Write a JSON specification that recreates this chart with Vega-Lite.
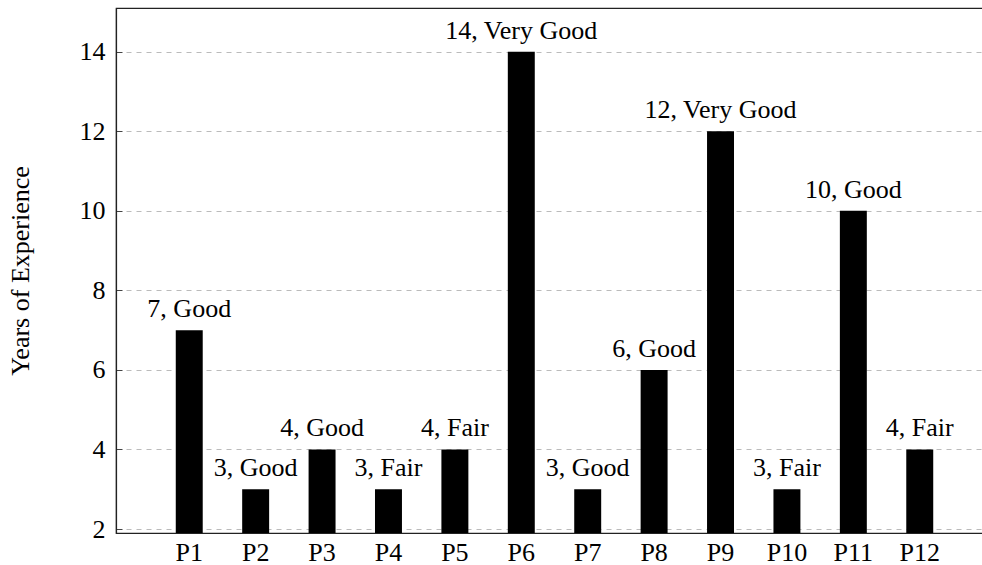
{
  "$schema": "https://vega.github.io/schema/vega-lite/v6.json",
  "autosize": "none",
  "padding": {"left": 116, "top": 8, "right": 0, "bottom": 32},
  "width": 877,
  "height": 525,
  "background": "white",
  "config": {
    "font": "Liberation Serif",
    "view": {"stroke": "#222", "strokeWidth": 1.2}
  },
  "data": {
    "values": [
      {"p": "P1", "years": 7, "label": "7, Good"},
      {"p": "P2", "years": 3, "label": "3, Good"},
      {"p": "P3", "years": 4, "label": "4, Good"},
      {"p": "P4", "years": 3, "label": "3, Fair"},
      {"p": "P5", "years": 4, "label": "4, Fair"},
      {"p": "P6", "years": 14, "label": "14, Very Good"},
      {"p": "P7", "years": 3, "label": "3, Good"},
      {"p": "P8", "years": 6, "label": "6, Good"},
      {"p": "P9", "years": 12, "label": "12, Very Good"},
      {"p": "P10", "years": 3, "label": "3, Fair"},
      {"p": "P11", "years": 10, "label": "10, Good"},
      {"p": "P12", "years": 4, "label": "4, Fair"}
    ]
  },
  "encoding": {
    "x": {
      "field": "p", "type": "nominal", "sort": null,
      "scale": {"paddingInner": 0.594, "paddingOuter": 0.9},
      "axis": {
        "title": null, "labelAngle": 0, "labelFontSize": 26, "labelColor": "black",
        "labelFont": "Liberation Serif", "ticks": false, "labelPadding": 6,
        "domainColor": "#222", "domainWidth": 1.2, "grid": false
      }
    },
    "y": {
      "field": "years", "type": "quantitative",
      "scale": {"domain": [1.9, 15.1], "nice": false, "zero": false},
      "axis": {
        "title": "Years of Experience", "titleFontSize": 26, "titleFont": "Liberation Serif",
        "titleFontWeight": "normal", "titleColor": "black",
        "titleAngle": -90, "titleBaseline": "alphabetic", "titleAlign": "center",
        "titleX": -88, "titleY": 262.5,
        "values": [2, 4, 6, 8, 10, 12, 14],
        "labelFontSize": 26, "labelColor": "black", "labelFont": "Liberation Serif",
        "tickSize": -6, "tickColor": "#444", "labelPadding": 17,
        "domainColor": "#222", "domainWidth": 1.2,
        "grid": true, "gridColor": "#bbbbbb", "gridDash": [5, 5], "gridWidth": 1
      }
    }
  },
  "layer": [
    {"mark": {"type": "bar", "color": "black", "clip": true}},
    {
      "mark": {"type": "text", "dy": -13, "baseline": "alphabetic", "fontSize": 26, "font": "Liberation Serif", "color": "black"},
      "encoding": {"text": {"field": "label"}}
    }
  ]
}
